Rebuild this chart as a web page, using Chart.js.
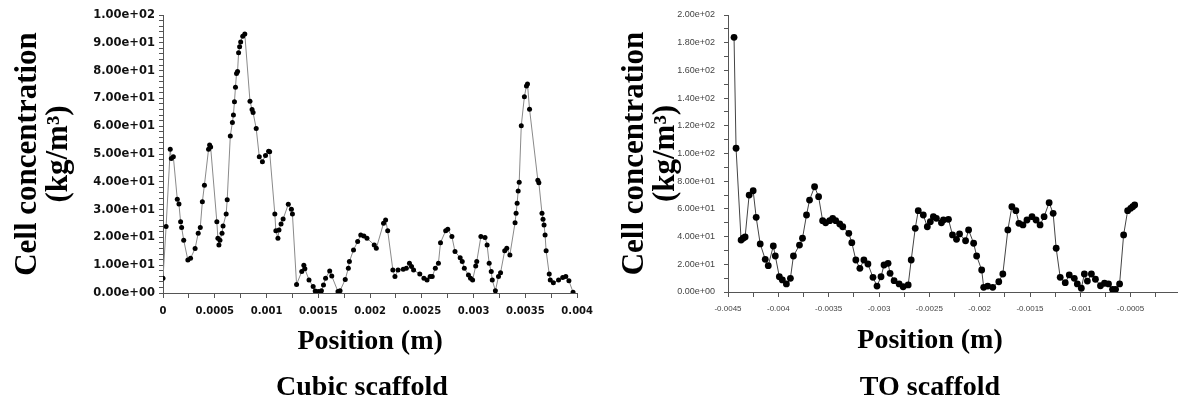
<!DOCTYPE html>
<html>
<head>
<meta charset="utf-8">
<script src="https://cdn.jsdelivr.net/npm/chart.js@4"></script>
<style>
  html, body { margin: 0; padding: 0; background: #fff; }
  body { width: 1178px; height: 403px; overflow: hidden; position: relative; }
  .panel { position: absolute; top: 0; width: 600px; height: 403px; }
  .caption {
    position: absolute; top: 370px; width: 240px; line-height: 34px;
    text-align: center; font: bold 28px "Liberation Serif", serif; color: #000;
  }
</style>
</head>
<body>
<div class="panel" style="left:0"><canvas id="cubicChart" width="600" height="403"></canvas></div>
<div class="panel" style="left:600px"><canvas id="toChart" width="600" height="403"></canvas></div>
<div class="caption" style="left:242px">Cubic scaffold</div>
<div class="caption" style="left:810px">TO scaffold</div>

<script>
// Cubic scaffold: position (m) vs cell concentration (kg/m3)
const cubicX = [0, 0.00003, 0.00007, 0.00008, 0.0001, 0.000138, 0.000154, 0.00017, 0.00018, 0.0002,
    0.00024, 0.000266, 0.00031, 0.00034, 0.00036, 0.00038, 0.0004, 0.00044, 0.00045, 0.00046,
    0.00052, 0.00053, 0.00054, 0.00055, 0.00057, 0.00058, 0.00061, 0.00062, 0.00065, 0.00067,
    0.00068, 0.00069, 0.0007, 0.00071, 0.00072, 0.00073, 0.00074, 0.00075, 0.00077, 0.00079,
    0.00084, 0.00086, 0.00087, 0.0009, 0.00093, 0.00096, 0.00099, 0.00102, 0.00103, 0.00108,
    0.00109, 0.00111, 0.00112, 0.00114, 0.00116, 0.00121, 0.00124, 0.00125, 0.00129, 0.00134,
    0.00136, 0.00137, 0.00141, 0.00145, 0.00147, 0.0015, 0.00153, 0.00155, 0.00157, 0.00161,
    0.00163, 0.00169, 0.00171, 0.00176, 0.00179, 0.0018, 0.00184, 0.00188, 0.00191, 0.00194,
    0.00197, 0.00204, 0.00206, 0.00213, 0.00215, 0.00217, 0.00222, 0.00224, 0.00227, 0.00232,
    0.00235, 0.00238, 0.0024, 0.00242, 0.00248, 0.00252, 0.00255, 0.00258, 0.0026, 0.00263,
    0.00266, 0.00268, 0.00273, 0.00275, 0.00279, 0.00282, 0.00287, 0.00289, 0.00291, 0.00295,
    0.00297, 0.00299, 0.00302, 0.00303, 0.00307, 0.00311, 0.00313, 0.00315, 0.00317, 0.00318,
    0.00321, 0.00324, 0.00326, 0.0033, 0.00332, 0.00335, 0.0034, 0.00341, 0.00342, 0.00343,
    0.00344, 0.00346, 0.00349, 0.00351, 0.00352, 0.00354, 0.00362, 0.00363, 0.00366, 0.00367,
    0.00368, 0.00369, 0.0037, 0.00373, 0.00374, 0.00377, 0.00382, 0.00386, 0.00389, 0.00392,
    0.00396];
const cubicY = [5.3, 23.9, 51.7, 48.4, 49, 33.7, 32, 25.6, 23.6, 19,
    11.9, 12.5, 16, 21.5, 23.6, 32.8, 38.8, 51.7, 53.2, 52.5,
    25.6, 19.7, 17.3, 19, 21.5, 24.1, 28.4, 33.5, 56.5, 61.3,
    64, 68.8, 74, 79, 79.7, 86.4, 88.6, 90.3, 92.4, 93.2,
    69, 66, 64.9, 59.2, 49, 47.2, 49.5, 51, 50.8, 28.4,
    22.4, 19.7, 22.7, 24.8, 26.6, 31.9, 30.1, 28.4, 3.1, 7.7,
    10, 8.7, 4.7, 2.3, 0.7, 0.5, 0.8, 2.9, 5.3, 7.9,
    6.1, 0.5, 0.8, 4.9, 8.9, 11.3, 15.5, 18.5, 20.9, 20.5,
    19.7, 17.3, 16.1, 25.1, 26.3, 22.4, 8.3, 5.9, 8.3, 8.5,
    8.9, 10.7, 9.5, 8.3, 6.8, 5.3, 4.7, 5.9, 5.9, 8.9,
    10.7, 18.1, 22.4, 22.9, 20.3, 14.9, 12.7, 11.3, 8.9, 6.5,
    5.3, 4.7, 9.7, 11.3, 20.3, 20, 17.3, 10.7, 7.7, 4.7,
    0.8, 5.9, 7.3, 15.2, 16.1, 13.7, 25.3, 28.7, 32.3, 36.7,
    39.8, 60.2, 70.6, 74.5, 75.2, 66.1, 40.6, 39.7, 28.7, 26.5,
    24.5, 20.9, 15.2, 6.8, 4.7, 3.7, 4.7, 5.6, 5.9, 4.4,
    0.3];

// TO scaffold
const toX = [-0.00444, -0.00442, -0.00437, -0.00435, -0.00433, -0.00429, -0.00425, -0.00422, -0.00418, -0.00413,
    -0.0041, -0.00405, -0.00403, -0.00399, -0.00396, -0.00392, -0.00388, -0.00385, -0.00379, -0.00376,
    -0.00372, -0.00369, -0.00364, -0.0036, -0.00356, -0.00353, -0.00349, -0.00346, -0.00343, -0.00339,
    -0.00336, -0.0033, -0.00327, -0.00323, -0.00319, -0.00315, -0.00311, -0.00306, -0.00302, -0.00298,
    -0.00295, -0.00291, -0.00289, -0.00285, -0.0028, -0.00276, -0.00271, -0.00268, -0.00264, -0.00261,
    -0.00256, -0.00252, -0.00249, -0.00246, -0.00243, -0.00238, -0.00236, -0.00231, -0.00227, -0.00223,
    -0.0022, -0.00214, -0.00211, -0.00206, -0.00203, -0.00198, -0.00196, -0.00192, -0.00187, -0.00181,
    -0.00177, -0.00172, -0.00168, -0.00164, -0.00161, -0.00157, -0.00153, -0.00148, -0.00144, -0.0014,
    -0.00136, -0.00131, -0.00127, -0.00124, -0.0012, -0.00115, -0.00111, -0.00106, -0.00103, -0.00099,
    -0.00096, -0.00093, -0.00089, -0.00085, -0.0008, -0.00076, -0.00072, -0.00068, -0.00065, -0.00061,
    -0.00057, -0.00053, -0.0005, -0.00048, -0.00046];
const toY = [183.9, 103.8, 37.5, 38.8, 39.7, 70, 73.1, 53.9, 34.7, 23.6,
    19, 33.2, 26, 11, 8.7, 5.8, 9.9, 26, 33.9, 38.8,
    55.6, 66.4, 76, 68.8, 51.5, 50, 51.5, 53.2, 51.5, 49.1,
    47.1, 42.4, 35.6, 23.1, 17.1, 23.1, 20.2, 10.6, 4.3, 11,
    19.5, 20.7, 13.5, 8.2, 5.8, 3.8, 5.1, 23.1, 46, 58.7,
    55.6, 47.1, 50.8, 54.4, 53.2, 50, 52, 52.5, 41.2, 38,
    41.9, 37, 44.8, 35.2, 26, 15.9, 3.4, 4.3, 3.4, 7.4,
    13, 44.8, 61.6, 58.7, 49.6, 48.4, 52, 54.4, 52, 48.4,
    54.4, 64.5, 56.8, 31.6, 10.6, 6.7, 12.3, 9.9, 5.8, 2.7,
    13, 7.9, 13, 9.2, 4.5, 6.3, 5.8, 1.9, 1.9, 5.8,
    41.2, 58.7, 60.4, 61.6, 62.8];

const yTitle = ['Cell concentration', '(kg/m\u00b3)'];
const xTitle = 'Position (m)';

// 1.00e+02 style labels
function sciLabel(v) {
    const parts = v.toExponential(2).split('e');
    const n = parseInt(parts[1], 10);
    return parts[0] + 'e' + (n < 0 ? '-' : '+') + String(Math.abs(n)).padStart(2, '0');
}

function isMultiple(v, step) {
    return Math.abs(v / step - Math.round(v / step)) < 1e-6;
}

function makeChart(canvasId, xs, ys, opts) {
    const el = document.getElementById(canvasId);
    if (!el) return;
    const points = xs.map((x, i) => ({ x: x, y: ys[i] }));
    new Chart(el.getContext('2d'), {
        type: 'line',
        data: {
            datasets: [{
                data: points,
                borderColor: opts.lineColor,
                borderWidth: 1,
                pointRadius: opts.pointRadius,
                pointBackgroundColor: '#000',
                pointBorderColor: '#000',
                pointBorderWidth: 0,
                tension: 0
            }]
        },
        options: {
            responsive: false,
            animation: false,
            layout: { padding: opts.padding },
            plugins: {
                legend: { display: false },
                tooltip: { enabled: false }
            },
            scales: {
                x: {
                    type: 'linear',
                    min: opts.xMin,
                    max: opts.xMax,
                    afterFit: s => { s.height = 78; },
                    border: { display: true, color: '#555', width: 1 },
                    grid: { drawOnChartArea: false, tickLength: 5, color: '#555' },
                    ticks: {
                        stepSize: 0.00025,
                        autoSkip: false,
                        maxRotation: 0,
                        minRotation: 0,
                        padding: 7,
                        color: opts.tickColor,
                        font: opts.xTickFont,
                        callback: v => isMultiple(v, 0.0005) ? String(parseFloat(v.toFixed(5))) : ''
                    },
                    title: {
                        display: true,
                        text: opts.xTitleText,
                        color: '#000',
                        font: { family: 'Liberation Serif', size: 28, weight: 'bold', lineHeight: 1.2 },
                        padding: { top: 0, bottom: 12 }
                    }
                },
                y: {
                    min: 0,
                    max: opts.yMax,
                    afterFit: s => { s.width = opts.yWidth; },
                    border: { display: true, color: '#555', width: 1 },
                    grid: { drawOnChartArea: false, tickLength: 4, color: '#555' },
                    ticks: {
                        stepSize: opts.yMinor,
                        autoSkip: false,
                        padding: opts.yTickPad,
                        color: opts.tickColor,
                        font: opts.yTickFont,
                        callback: v => isMultiple(v, opts.yMajor) ? sciLabel(v) : ''
                    },
                    title: {
                        display: true,
                        text: yTitle,
                        color: '#000',
                        font: { family: 'Liberation Serif', size: 31, weight: 'bold', lineHeight: 1 },
                        padding: { top: opts.yTitlePad, bottom: 0 }
                    }
                }
            }
        }
    });
}

makeChart('cubicChart', cubicX, cubicY, {
    xMin: 0, xMax: 0.004, yMax: 100, yMajor: 10, yMinor: 2,
    yWidth: 163, yTitlePad: 12, yTickPad: 4,
    padding: { top: 15, right: 21, bottom: 32, left: 0 },
    lineColor: '#8a8a8a', pointRadius: 2.5, tickColor: '#111',
    xTickFont: { family: 'DejaVu Sans', size: 10, weight: 'bold' },
    yTickFont: { family: 'DejaVu Sans', size: 11.5, weight: 'bold' },
    xTitleText: xTitle
});

makeChart('toChart', toX, toY, {
    xMin: -0.0045, xMax: 0, yMax: 200, yMajor: 20, yMinor: 10,
    yWidth: 128, yTitlePad: 19, yTickPad: 9,
    padding: { top: 15, right: 19, bottom: 33, left: 0 },
    lineColor: '#444', pointRadius: 3.4, tickColor: '#444',
    xTickFont: { family: 'Liberation Sans', size: 8 },
    yTickFont: { family: 'Liberation Sans', size: 9 },
    // trailing spaces pull the centred title left, as in the figure
    xTitleText: xTitle + '       '
});
</script>
</body>
</html>
